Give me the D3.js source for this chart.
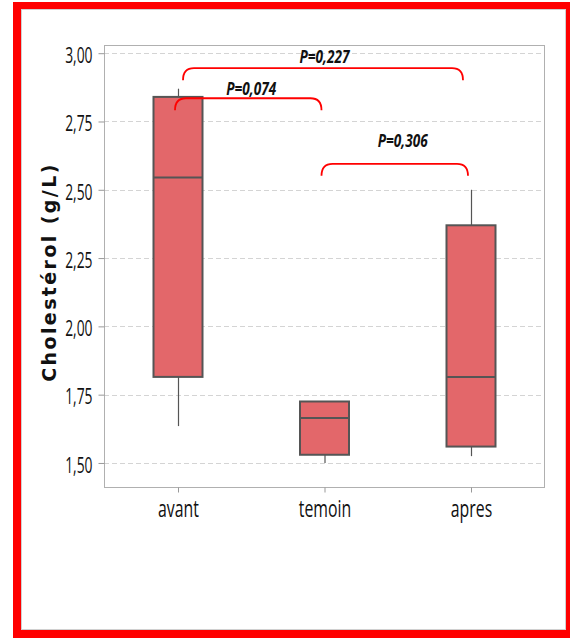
<!DOCTYPE html>
<html>
<head>
<meta charset="utf-8">
<script src="https://cdn.jsdelivr.net/npm/d3@7"></script>
<style>
  html, body { margin: 0; padding: 0; background: #fff; }
  svg { display: block; }
  .cond { font-family: "Open Sans", "Noto Sans", sans-serif; }
</style>
</head>
<body>
<svg id="chart" width="571" height="639"></svg>
<script>
// Groups along the x axis
const groups = ["avant", "temoin", "apres"];
// Box statistics per group (g/L)
const whiskerLow  = [1.635, 1.500, 1.525];
const q1          = [1.815, 1.530, 1.560];
const median      = [2.545, 1.665, 1.815];
const q3          = [2.840, 1.725, 2.370];
const whiskerHigh = [2.870, 1.725, 2.500];
// Y ticks
const yTicks = [1.50, 1.75, 2.00, 2.25, 2.50, 2.75, 3.00];
// Pairwise comparisons
const compFrom  = ["avant", "avant", "temoin"];
const compTo    = ["temoin", "apres", "apres"];
const compLabel = ["P=0,074", "P=0,227", "P=0,306"];
const compLevel = [2.835, 2.945, 2.595];

const svg = d3.select("#chart");
const narrow = 0.63; // horizontal squeeze for the condensed lettering

// Red outer frame
const red = "#ff0000";
svg.append("rect").attr("x", 13).attr("y", 2).attr("width", 557).attr("height", 7).attr("fill", red);
svg.append("rect").attr("x", 13).attr("y", 630).attr("width", 557).attr("height", 8).attr("fill", red);
svg.append("rect").attr("x", 13).attr("y", 2).attr("width", 8).attr("height", 636).attr("fill", red);
svg.append("rect").attr("x", 566).attr("y", 2).attr("width", 4).attr("height", 636).attr("fill", red);
svg.append("rect").attr("x", 21.5).attr("y", 9.5).attr("width", 544).attr("height", 620)
  .attr("fill", "none").attr("stroke", "#d0d0d0").attr("stroke-width", 1);

const plot = { left: 104, right: 544, top: 45, bottom: 487 };

const y = d3.scaleLinear().domain([1.412, 3.03]).range([plot.bottom, plot.top]);
const x = d3.scalePoint().domain(groups).range([178, 471]);

const fmt = d => d3.format(".2f")(d).replace(".", ",");

// Grid lines
svg.append("g").selectAll("line").data(yTicks).join("line")
  .attr("x1", plot.left).attr("x2", plot.right)
  .attr("y1", d => Math.round(y(d)) + 0.5).attr("y2", d => Math.round(y(d)) + 0.5)
  .attr("stroke", "#d4d4d4").attr("stroke-dasharray", "5,3");

// Plot frame
svg.append("rect").attr("x", plot.left + 0.5).attr("y", plot.top + 0.5)
  .attr("width", plot.right - plot.left).attr("height", plot.bottom - plot.top)
  .attr("fill", "none").attr("stroke", "#b0b0b0");

// Y axis
const yAxis = svg.append("g").attr("transform", `translate(${plot.left + 0.5},0)`)
  .call(d3.axisLeft(y).tickValues(yTicks).tickFormat(fmt).tickSize(6).tickPadding(0));
yAxis.select(".domain").remove();
yAxis.selectAll(".tick line").attr("stroke", "#999");
yAxis.selectAll(".tick text").attr("class", "cond")
  .attr("font-size", 22).attr("fill", "#111")
  .attr("x", -12 / narrow).attr("dy", "0.42em")
  .attr("transform", `scale(${narrow},1)`);

// X axis
const xAxis = svg.append("g").attr("transform", `translate(0,${plot.bottom + 0.5})`)
  .call(d3.axisBottom(x).tickSize(5).tickPadding(6));
xAxis.select(".domain").remove();
xAxis.selectAll(".tick line").attr("stroke", "#999");
xAxis.selectAll(".tick text").attr("class", "cond")
  .attr("font-size", 24).attr("fill", "#111")
  .attr("y", 29.5).attr("dy", 0)
  .attr("transform", `scale(${narrow + 0.03},1)`);

// Y axis title
svg.append("text")
  .attr("transform", `translate(56,272) rotate(-90)`)
  .attr("text-anchor", "middle")
  .attr("font-family", "DejaVu Sans, Verdana, sans-serif")
  .attr("font-weight", "bold").attr("font-size", 19).attr("letter-spacing", 2.4)
  .attr("fill", "#111")
  .text("Cholestérol (g/L)");

// Boxes
const boxW = 49;
const rows = groups.map((g, i) => ({ g, lo: whiskerLow[i], q1: q1[i], med: median[i], q3: q3[i], hi: whiskerHigh[i] }));
const box = svg.append("g").selectAll("g").data(rows).join("g");
box.append("line")
  .attr("x1", d => x(d.g) + 0.5).attr("x2", d => x(d.g) + 0.5)
  .attr("y1", d => y(d.hi)).attr("y2", d => y(d.q3))
  .attr("stroke", "#555").attr("stroke-width", 1.2);
box.append("line")
  .attr("x1", d => x(d.g) + 0.5).attr("x2", d => x(d.g) + 0.5)
  .attr("y1", d => y(d.q1)).attr("y2", d => y(d.lo))
  .attr("stroke", "#555").attr("stroke-width", 1.2);
box.append("rect")
  .attr("x", d => x(d.g) - boxW / 2).attr("width", boxW)
  .attr("y", d => y(d.q3)).attr("height", d => y(d.q1) - y(d.q3))
  .attr("fill", "#e3676a").attr("stroke", "#555").attr("stroke-width", 2);
box.append("line")
  .attr("x1", d => x(d.g) - boxW / 2).attr("x2", d => x(d.g) + boxW / 2)
  .attr("y1", d => y(d.med)).attr("y2", d => y(d.med))
  .attr("stroke", "#555").attr("stroke-width", 2);

// Significance brackets
const comps = compLabel.map((l, i) => ({ a: compFrom[i], b: compTo[i], label: l, level: compLevel[i] }));
const br = svg.append("g").selectAll("g").data(comps).join("g");
const drop = 12, r = 11;
br.append("path")
  .attr("d", d => {
    const wide = d.a === "avant" && d.b === "apres";
    const x1 = x(d.a) - 3 + (wide ? 8 : 0);
    const x2 = x(d.b) - 3 + (wide ? -5 : 0);
    const yy = y(d.level);
    return `M${x1},${yy + drop} Q${x1},${yy} ${x1 + r},${yy} L${x2 - r},${yy} Q${x2},${yy} ${x2},${yy + drop}`;
  })
  .attr("fill", "none").attr("stroke", red).attr("stroke-width", 1.8);
br.append("text")
  .attr("class", "cond")
  .attr("transform", d => {
    const cx = (x(d.a) + x(d.b)) / 2 + (d.a === "temoin" ? 5 : 0);
    const cy = y(d.level) - (d.b === "temoin" ? 3 : d.a === "temoin" ? 17 : 5);
    return `translate(${cx},${cy}) scale(0.8,1)`;
  })
  .attr("text-anchor", "middle")
  .attr("font-weight", "bold").attr("font-style", "italic")
  .attr("font-size", 17).attr("fill", "#111")
  .text(d => d.label);
</script>
</body>
</html>
